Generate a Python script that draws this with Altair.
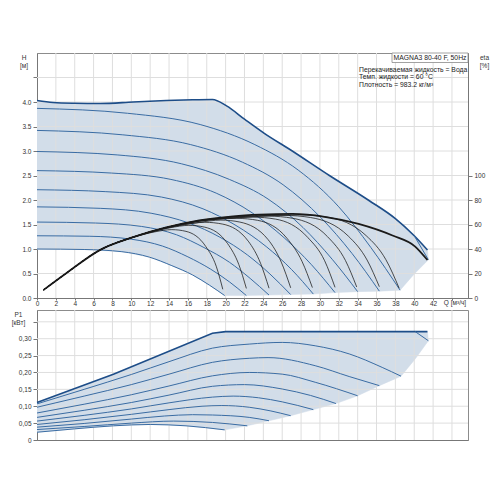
import altair as alt
import pandas as pd

FONT = "Liberation Sans"
BLUE = "#3a6ca3"
BLUE_DARK = "#1d4d88"
FILL = "#d2dde9"
GRID = "#dedede"
BLACK = "#1a1a1a"

# ---------------- tick / grid values ----------------
Q_TICKS = [0, 2, 4, 6, 8, 10, 12, 14, 16, 18, 20, 22, 24, 26, 28, 30, 32, 34, 36, 38, 40, 42, 44]
H_TICKS = [0, 0.5, 1.0, 1.5, 2.0, 2.5, 3.0, 3.5, 4.0, 4.5]
H_GRID = [0.5, 1.0, 1.5, 2.0, 2.5, 3.0, 3.5, 4.0, 4.5]
ETA_TICKS = [0, 20, 40, 60, 80, 100]
P_TICKS = [0, 0.05, 0.1, 0.15, 0.2, 0.25, 0.3, 0.35]
P_GRID = [0.05, 0.1, 0.15, 0.2, 0.25, 0.3, 0.35]

# ---------------- texts ----------------
INFO_TITLE = "MAGNA3 80-40 F, 50Hz"
INFO_LINES = ["Перекачиваемая жидкость = Вода", "Темп. жидкости = 60 °C", "Плотность = 983.2 кг/м³"]

# ---------------- H(Q) curves ----------------
MAX_Q = [0, 1.7, 4, 6.7, 10.2, 13.7, 16.5, 18.6, 20.1, 22.0, 24.1, 26.9, 31.0, 35.2, 38.0, 40.0, 41.4]
MAX_H = [4.03, 3.99, 3.975, 3.97, 4.00, 4.03, 4.045, 4.05, 3.92, 3.65, 3.36, 3.02, 2.50, 1.99, 1.62, 1.27, 0.98]
TAIL_Q = [40.0, 41.5]
TAIL_H = [1.27, 0.78]

SPEED_Q = {
    "c2": [0, 9.6, 17.3, 23.1, 27.7, 32.0, 35.4, 38.5],
    "c3": [0, 9.1, 16.3, 21.8, 26.1, 30.1, 33.4, 36.3],
    "c4": [0, 8.5, 15.3, 20.4, 24.5, 28.2, 31.3, 34.0],
    "c5": [0, 7.9, 14.2, 19.0, 22.8, 26.2, 29.1, 31.6],
    "c6": [0, 7.3, 13.2, 17.6, 21.1, 24.3, 27.0, 29.3],
    "c7": [0, 6.7, 12.1, 16.1, 19.4, 22.3, 24.7, 26.9],
    "c8": [0, 6.2, 11.1, 14.8, 17.7, 20.4, 22.6, 24.6],
    "c9": [0, 5.6, 10.0, 13.3, 16.0, 18.4, 20.4, 22.2],
    "c10": [0, 5.0, 9.0, 11.9, 14.3, 16.5, 18.3, 19.9],
}
SPEED_H = {
    "c2": [3.87, 3.77, 3.54, 3.13, 2.61, 1.86, 1.03, 0.16],
    "c3": [3.42, 3.33, 3.13, 2.77, 2.31, 1.64, 0.91, 0.14],
    "c4": [2.99, 2.92, 2.74, 2.42, 2.02, 1.44, 0.79, 0.13],
    "c5": [2.60, 2.55, 2.42, 2.14, 1.74, 1.23, 0.68, 0.11],
    "c6": [2.21, 2.17, 2.06, 1.82, 1.48, 1.05, 0.58, 0.08],
    "c7": [1.86, 1.83, 1.73, 1.53, 1.24, 0.88, 0.49, 0.07],
    "c8": [1.55, 1.53, 1.46, 1.29, 1.03, 0.73, 0.40, 0.06],
    "c9": [1.27, 1.26, 1.20, 1.06, 0.84, 0.59, 0.33, 0.05],
    "c10": [1.00, 0.99, 0.945, 0.835, 0.66, 0.47, 0.26, 0.05],
}
# right / bottom edge of the operating area (from max curve end back to lowest curve end)
EDGE_Q = [41.5, 40.0, 38.5, 36.3, 34.0, 31.6, 29.3, 26.9, 24.6, 22.2]
EDGE_H = [0.78, 0.49, 0.16, 0.14, 0.13, 0.11, 0.08, 0.07, 0.06, 0.05]

# ---------------- efficiency curves ----------------
ETA_MAX_Q = [0.7, 3.1, 6.7, 10.2, 13.7, 17.2, 20.8, 23.6, 27.1, 30.5, 34.1, 37.7, 40.1, 41.4]
ETA_MAX_V = [6.6, 20.2, 39.3, 49.7, 57.6, 63.4, 66.7, 68.0, 68.6, 66.3, 60.5, 51.0, 42.0, 31.0]
ETA_Q = {
    "c2": [0.7, 3.1, 6.7, 10.2, 13.7, 17.2, 20.8, 24.4, 27.8, 30.7, 34.9, 37.0, 38.4],
    "c3": [0.7, 3.1, 6.7, 10.2, 13.7, 17.2, 20.8, 23.5, 26.3, 29.0, 33.0, 35.0, 36.3],
    "c4": [0.7, 3.1, 6.7, 10.2, 13.7, 17.2, 21.0, 24.6, 27.1, 30.8, 32.7, 33.9],
    "c5": [0.7, 3.1, 6.7, 10.2, 13.7, 17.2, 20.1, 22.9, 25.3, 28.7, 30.5, 31.6],
    "c6": [0.7, 3.1, 6.7, 10.2, 13.7, 17.2, 21.2, 23.4, 26.5, 28.1, 29.2],
    "c7": [0.7, 3.1, 6.7, 10.2, 13.7, 17.1, 19.5, 21.5, 24.5, 25.9, 26.9],
    "c8": [0.7, 3.1, 6.7, 10.2, 12.8, 15.6, 17.8, 19.7, 22.4, 23.7, 24.6],
    "c9": [0.7, 3.1, 6.7, 10.2, 11.5, 14.1, 16.1, 17.8, 20.2, 21.4, 22.2],
    "c10": [0.7, 3.1, 6.7, 10.2, 12.5, 14.3, 15.8, 17.9, 19.0, 19.7],
}
ETA_V = {
    "c2": [6.6, 20.2, 39.3, 49.7, 57.5, 63.2, 66.3, 67.4, 67.8, 66.1, 50.9, 31.2, 8.0],
    "c3": [6.6, 20.2, 39.3, 49.7, 57.5, 63.1, 66.0, 67.0, 67.4, 65.7, 50.6, 31.0, 9.2],
    "c4": [6.6, 20.2, 39.3, 49.7, 57.5, 63.0, 65.6, 66.8, 65.1, 50.1, 30.7, 9.0],
    "c5": [6.6, 20.2, 39.3, 49.7, 57.5, 62.8, 64.9, 66.0, 64.4, 49.5, 30.4, 8.7],
    "c6": [6.6, 20.2, 39.3, 49.7, 57.5, 62.6, 65.0, 63.4, 48.8, 29.9, 8.5],
    "c7": [6.6, 20.2, 39.3, 49.7, 57.4, 61.6, 63.6, 62.0, 47.7, 29.3, 8.3],
    "c8": [6.6, 20.2, 39.3, 49.7, 55.4, 59.8, 61.8, 60.3, 46.4, 28.4, 8.0],
    "c9": [6.6, 20.2, 39.3, 49.7, 52.4, 57.3, 59.3, 57.8, 44.5, 27.3, 7.8],
    "c10": [6.6, 20.2, 39.3, 49.5, 54.0, 55.8, 54.4, 42.0, 26.0, 7.1],
}

# ---------------- P1(Q) curves ----------------
P_MAX_Q = [0, 8.1, 18.6, 20.0, 41.4]
P_MAX_V = [0.111, 0.195, 0.316, 0.321, 0.321]
P_TAIL_Q = [40.1, 41.5]
P_TAIL_V = [0.321, 0.294]
P_Q = {
    "c2": [0, 5, 10, 14, 18.6, 22.5, 26.0, 29.5, 33.1, 36.6, 38.6],
    "c3": [0, 5, 10, 14, 18.6, 22.5, 24.5, 29.5, 33.1, 36.3],
    "c4": [0, 5, 10, 14, 18.6, 22.5, 26.0, 29.5, 34.0],
    "c5": [0, 5, 10, 14, 18.6, 22.0, 26.0, 29.0, 31.7],
    "c6": [0, 5, 10, 14, 18.6, 20.8, 23.5, 26.0, 29.3],
    "c7": [0, 5, 10, 14, 17.5, 19.6, 22.5, 24.8, 26.9],
    "c8": [0, 5, 10, 13.5, 16.5, 18.6, 22.5, 24.6],
    "c9": [0, 5, 10, 14.5, 18.6, 22.3],
    "c10": [0, 4, 8.1, 12, 15.8, 19.9],
}
P_V = {
    "c2": [0.107, 0.150, 0.194, 0.232, 0.272, 0.284, 0.289, 0.279, 0.255, 0.215, 0.189],
    "c3": [0.097, 0.130, 0.164, 0.195, 0.230, 0.242, 0.244, 0.220, 0.188, 0.161],
    "c4": [0.080, 0.106, 0.134, 0.160, 0.190, 0.200, 0.195, 0.171, 0.131],
    "c5": [0.067, 0.088, 0.111, 0.133, 0.159, 0.164, 0.151, 0.132, 0.108],
    "c6": [0.056, 0.073, 0.092, 0.110, 0.127, 0.130, 0.125, 0.113, 0.090],
    "c7": [0.046, 0.060, 0.076, 0.090, 0.100, 0.102, 0.097, 0.086, 0.072],
    "c8": [0.038, 0.049, 0.062, 0.071, 0.075, 0.074, 0.067, 0.057],
    "c9": [0.031, 0.040, 0.050, 0.056, 0.052, 0.042],
    "c10": [0.023, 0.033, 0.042, 0.046, 0.042, 0.030],
}
P_EDGE_Q = [41.5, 40.1, 38.6, 36.3, 34.0, 31.7, 29.3, 26.9, 24.6, 22.3]
P_EDGE_V = [0.294, 0.240, 0.189, 0.161, 0.131, 0.108, 0.090, 0.072, 0.057, 0.042]


# ---------------- helpers ----------------
def curves(qd, vd, field):
    rows = []
    for name in qd:
        for q, v in zip(qd[name], vd[name]):
            rows.append({"curve": name, "Q": q, field: v})
    return pd.DataFrame(rows)


def polygon(qs, vs, field):
    return pd.DataFrame({"i": list(range(len(qs))), "Q": qs, field: vs})


X_SCALE = alt.Scale(domain=[0, 45.7], nice=False, zero=False)
H_SCALE = alt.Scale(domain=[0, 5], nice=False)
E_SCALE = alt.Scale(domain=[0, 200], nice=False)
P_SCALE = alt.Scale(domain=[0, 0.385], nice=False)

X_AXIS_TOP = alt.Axis(values=Q_TICKS, labelExpr="datum.value > 43 ? '' : datum.label",
                      grid=False, tickSize=2, labelPadding=0.5, labelFlush=False, labelOverlap=False,
                      title="Q [м³/ч]", titleX=417.5, titleY=1.5, titleAlign="center",
                      titleBaseline="top")
X_AXIS_BOT = alt.Axis(values=Q_TICKS, labels=False, ticks=False, grid=False, title="")
H_AXIS = alt.Axis(values=H_TICKS, format=".1f", labelExpr="datum.value > 4.1 ? '' : datum.label",
                  grid=False, tickSize=4, labelPadding=2, title=["H", "[м]"], titleAngle=0,
                  titleX=-13.5, titleY=1.5, titleAlign="center", titleBaseline="top",
                  titleLineHeight=7.5)
E_AXIS = alt.Axis(orient="right", values=ETA_TICKS, grid=False, tickSize=4, labelPadding=2,
                  title=["eta", "[%]"], titleAngle=0, titleX=16, titleY=1.5, titleAlign="center",
                  titleBaseline="top", titleLineHeight=7.5)
P_AXIS = alt.Axis(values=P_TICKS,
                  labelExpr="datum.value == 0 ? '0' : (datum.value > 0.31 ? '' : replace(format(datum.value, '.2f'), '.', ','))",
                  grid=False, tickSize=4, labelPadding=2, title=["P1", "[кВт]"], titleAngle=0,
                  titleX=-19, titleY=1.5, titleAlign="center", titleBaseline="top",
                  titleLineHeight=8)

xt = lambda: alt.X("Q:Q", scale=X_SCALE, axis=X_AXIS_TOP)
xb = lambda: alt.X("Q:Q", scale=X_SCALE, axis=X_AXIS_BOT)
yh = lambda: alt.Y("H:Q", scale=H_SCALE, axis=H_AXIS)
ye = lambda: alt.Y("E:Q", scale=E_SCALE, axis=E_AXIS)
yp = lambda: alt.Y("P:Q", scale=P_SCALE, axis=P_AXIS)

# ---------------- top chart ----------------
poly_q = MAX_Q + EDGE_Q + SPEED_Q["c10"][::-1]
poly_h = MAX_H + EDGE_H + SPEED_H["c10"][::-1]
fill_top = alt.Chart(polygon(poly_q, poly_h, "H")).mark_line(
    fill=FILL, stroke=FILL, strokeWidth=0.5, interpolate="linear"
).encode(x=xt(), y=yh(), order=alt.Order("i:Q"))

gridv_top = alt.Chart(pd.DataFrame({"Q": Q_TICKS[1:]})).mark_rule(color=GRID, strokeWidth=1).encode(x=xt())
gridh_top = alt.Chart(pd.DataFrame({"H": H_GRID})).mark_rule(color=GRID, strokeWidth=1).encode(y=yh())

box = alt.Chart(pd.DataFrame({"t": [INFO_TITLE]})).mark_rect(
    fill="white", stroke="#8a8a8a", strokeWidth=0.8
).encode(x=alt.value(355), x2=alt.value(431), y=alt.value(0), y2=alt.value(9.5))
box_text = alt.Chart(pd.DataFrame({"t": [INFO_TITLE]})).mark_text(
    font=FONT, fontSize=6.8, align="center", baseline="middle", color="#222"
).encode(x=alt.value(393), y=alt.value(5), text="t:N")
info_text = alt.Chart(pd.DataFrame({"t": ["\n".join(INFO_LINES)]})).mark_text(
    font=FONT, fontSize=6.8, align="left", baseline="top", color="#222", lineBreak="\n", lineHeight=7.9
).encode(x=alt.value(322), y=alt.value(13.6), text="t:N")

speed = alt.Chart(curves(SPEED_Q, SPEED_H, "H")).mark_line(
    color=BLUE, strokeWidth=1, interpolate="monotone"
).encode(x=xt(), y=yh(), detail="curve:N")
max_line = alt.Chart(pd.DataFrame({"Q": MAX_Q, "H": MAX_H})).mark_line(
    color=BLUE_DARK, strokeWidth=1.6, interpolate="monotone"
).encode(x=xt(), y=yh())
tail_line = alt.Chart(pd.DataFrame({"Q": TAIL_Q, "H": TAIL_H})).mark_line(
    color=BLUE, strokeWidth=1
).encode(x=xt(), y=yh())

eta_thin = alt.Chart(curves(ETA_Q, ETA_V, "E")).mark_line(
    color=BLACK, strokeWidth=0.9, opacity=0.85, interpolate="monotone"
).encode(x=xt(), y=ye(), detail="curve:N")
eta_bold = alt.Chart(pd.DataFrame({"Q": ETA_MAX_Q, "E": ETA_MAX_V})).mark_line(
    color=BLACK, strokeWidth=1.8, interpolate="monotone"
).encode(x=xt(), y=ye())

top_h = alt.layer(fill_top, gridv_top, gridh_top, box, box_text, info_text, speed, max_line, tail_line)
top_e = alt.layer(eta_thin, eta_bold)
top = alt.layer(top_h, top_e).resolve_scale(y="independent").properties(width=431, height=245)

# ---------------- bottom chart ----------------
ppoly_q = P_MAX_Q + P_EDGE_Q + P_Q["c10"][::-1]
ppoly_v = P_MAX_V + P_EDGE_V + P_V["c10"][::-1]
fill_bot = alt.Chart(polygon(ppoly_q, ppoly_v, "P")).mark_line(
    fill=FILL, stroke=FILL, strokeWidth=0.5, interpolate="linear"
).encode(x=xb(), y=yp(), order=alt.Order("i:Q"))
gridv_bot = alt.Chart(pd.DataFrame({"Q": Q_TICKS[1:]})).mark_rule(color=GRID, strokeWidth=1).encode(x=xb())
gridh_bot = alt.Chart(pd.DataFrame({"P": P_GRID})).mark_rule(color=GRID, strokeWidth=1).encode(y=yp())
p_lines = alt.Chart(curves(P_Q, P_V, "P")).mark_line(
    color=BLUE, strokeWidth=1, interpolate="monotone"
).encode(x=xb(), y=yp(), detail="curve:N")
p_max = alt.Chart(pd.DataFrame({"Q": P_MAX_Q, "P": P_MAX_V})).mark_line(
    color=BLUE_DARK, strokeWidth=1.6, interpolate="linear"
).encode(x=xb(), y=yp())
p_tail = alt.Chart(pd.DataFrame({"Q": P_TAIL_Q, "P": P_TAIL_V})).mark_line(
    color=BLUE, strokeWidth=1
).encode(x=xb(), y=yp())

bottom = alt.layer(fill_bot, gridv_bot, gridh_bot, p_lines, p_max, p_tail).properties(width=431, height=130)

chart = alt.vconcat(top, bottom, spacing=1).properties(
    padding={"left": 2, "top": 44, "right": 0, "bottom": 5}
).configure(font=FONT).configure_view(stroke="#8c8c8c", strokeWidth=1).configure_axis(
    labelFont=FONT, titleFont=FONT, labelFontSize=6.5, titleFontSize=6.5, titleFontWeight="normal",
    labelColor="#333", titleColor="#333", domainColor="#777", tickColor="#777"
)

chart.save("out.html", embed_options={"renderer": "svg", "actions": False})
